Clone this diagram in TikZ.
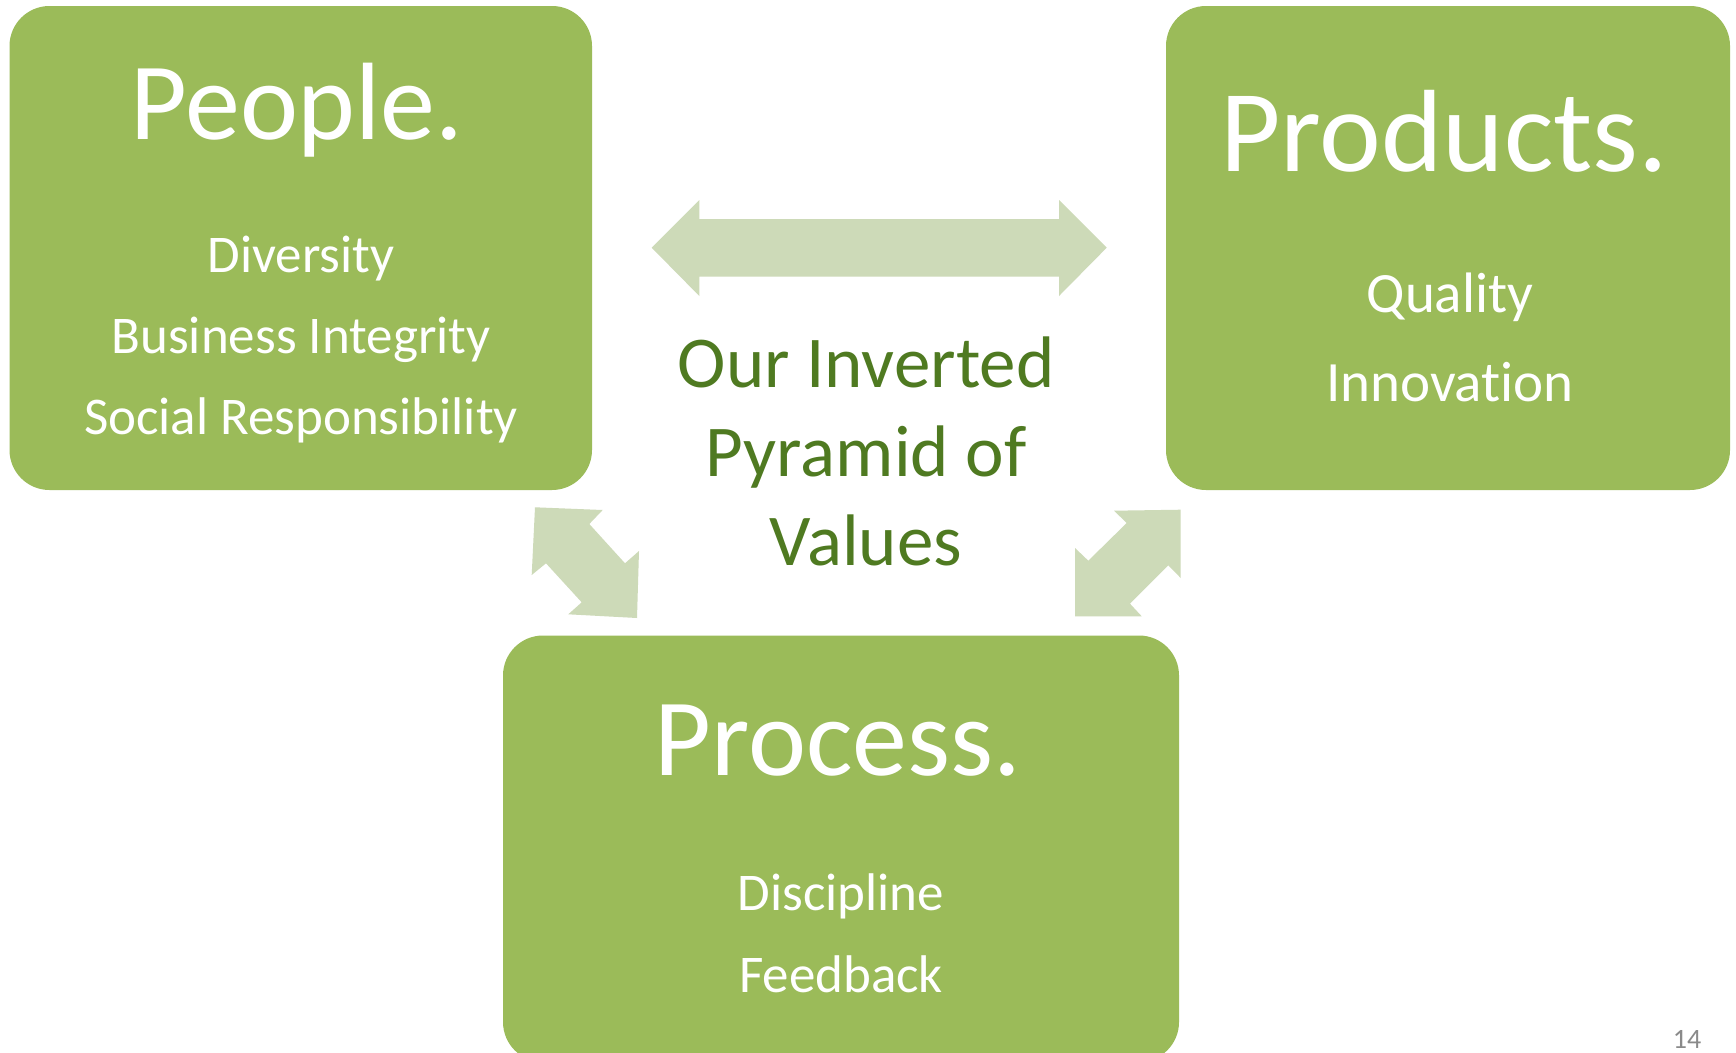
\documentclass[tikz,border=0pt]{standalone}
\usepackage{fontspec}
\setmainfont{Carlito}[Ligatures=NoCommon]
\definecolor{boxgreen}{HTML}{9BBB59}
\definecolor{arrowgreen}{HTML}{CDDAB8}
\definecolor{titlegreen}{HTML}{4F7A21}
\definecolor{pagegray}{HTML}{8A8A8A}
\begin{document}
\begin{tikzpicture}[x=1pt,y=-1pt,
  box/.style={fill=boxgreen, rounded corners=40pt, draw=none, inner sep=0pt, outer sep=0pt, rectangle},
  blockarrow/.style={fill=arrowgreen, draw=none},
  heading/.style={anchor=base, text=white, inner sep=0pt, font=\fontsize{110}{110}\selectfont},
  bigheading/.style={anchor=base, text=white, inner sep=0pt, font=\fontsize{117}{117}\selectfont},
  itemA/.style={anchor=base, text=white, inner sep=0pt, font=\fontsize{53}{53}\selectfont},
  itemB/.style={anchor=base, text=white, inner sep=0pt, font=\fontsize{57}{57}\selectfont},
  titletext/.style={anchor=base, text=titlegreen, inner sep=0pt, font=\fontsize{73}{73}\selectfont},
  pagenum/.style={anchor=base, text=pagegray, inner sep=0pt, font=\fontsize{28}{28}\selectfont}
]
\useasboundingbox (0,0) rectangle (1736,1052);
\fill[white] (0,0) rectangle (1736,1052);

% boxes
\node[box, minimum width=582.5pt, minimum height=484pt] (people) at (300.75,248) {};
\node[box, minimum width=564pt, minimum height=484pt] (products) at (1448,248) {};
\node[box, minimum width=676pt, minimum height=426.5pt] (process) at (841,848.75) {};

% block arrows
\fill[blockarrow] (651.7,247.7) -- (699.3,200) -- (699.3,219) -- (1059,219) -- (1059,200)
  -- (1106.7,247.7) -- (1059,296) -- (1059,276.7) -- (699.3,276.7) -- (699.3,296) -- cycle;
\fill[blockarrow] (535,507.3) -- (602.7,510) -- (589.3,524) -- (625,563.3) -- (639,551)
  -- (637,618) -- (568.3,614.3) -- (581.7,602.3) -- (546,563.3) -- (531.7,575) -- cycle;
\fill[blockarrow] (1114,510.7) -- (1180.7,509.7) -- (1180.7,578) -- (1168.3,565.3) -- (1130,603.7)
  -- (1141.7,616.3) -- (1075,616.3) -- (1075,548) -- (1088.3,560.7) -- (1126.7,523) -- cycle;

% People
\node[heading] (peoplehead) at (297,139) {People.};
\node[itemA] (diversity) at (301,272) {Diversity};
\node[itemA] (integrity) at (301,353) {Business Integrity};
\node[itemA] (social) at (301,434) {Social Responsibility};

% Products
\node[bigheading] (productshead) at (1444,171) {Products.};
\node[itemB] (quality) at (1450,312) {Quality};
\node[itemB] (innovation) at (1450,401) {Innovation};

% Process
\node[heading] (processhead) at (838,775) {Process.};
\node[itemA] (discipline) at (841,910) {Discipline};
\node[itemA] (feedback) at (841,992) {Feedback};

% Title
\node[titletext] (title1) at (866,387) {Our Inverted};
\node[titletext] (title2) at (866,476) {Pyramid of};
\node[titletext] (title3) at (866,565) {Values};

% page number
\node[pagenum] (page) at (1687,1048) {14};
\end{tikzpicture}
\end{document}
